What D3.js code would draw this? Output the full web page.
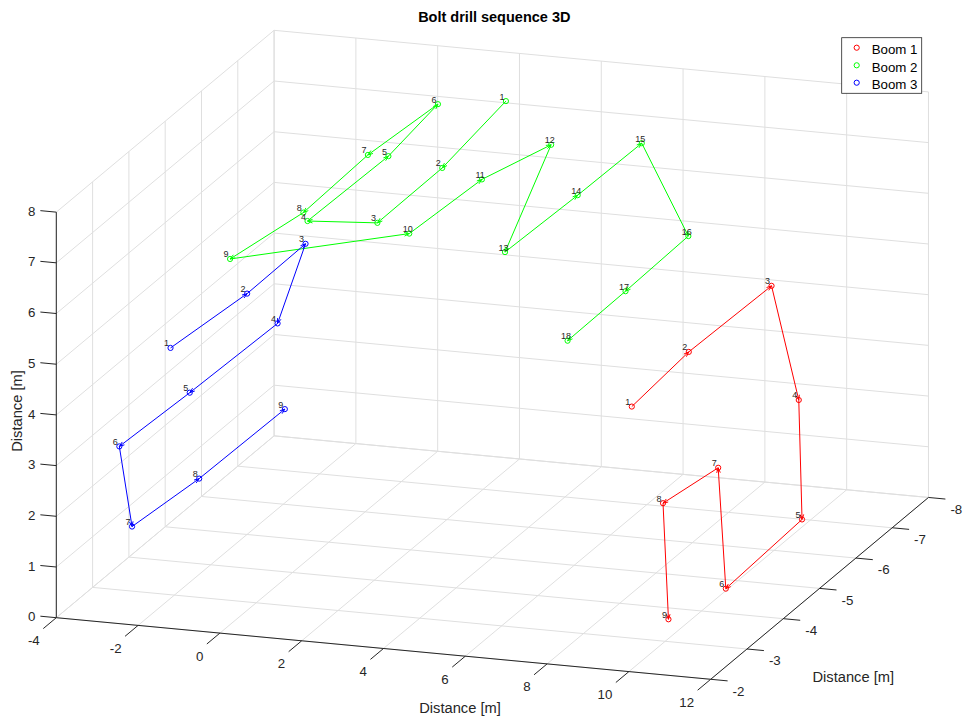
<!DOCTYPE html>
<html>
<head>
<meta charset="utf-8">
<script src="https://cdn.jsdelivr.net/npm/d3@7"></script>
<style>
  body { margin: 0; background: #fff; }
  text { font-family: "Liberation Sans", Arial, Helvetica, sans-serif; }
</style>
</head>
<body>
<svg id="chart" width="964" height="717"></svg>
<script>
// ---- axis ticks ----
const xTicks = [-4, -2, 0, 2, 4, 6, 8, 10, 12];
const yTicks = [-2, -3, -4, -5, -6, -7, -8];
const zTicks = [0, 1, 2, 3, 4, 5, 6, 7, 8];

// ---- bolt positions per boom (metres) ----
const boom1X = [10, 10, 10, 10, 10, 10, 10, 10, 10];
const boom1Y = [-2.08, -3.65, -5.93, -6.68, -6.77, -4.67, -4.46, -2.94, -3.09];
const boom1Z = [5.18, 5.32, 5.26, 2.56, 0.15, 0.04, 2.55, 2.76, 0.38];

const boom2X = [2.29, 2.65, 2.67, 0.82, 0.89, 0.61, -0.26, -0.16, -0.55,
                3.92, 4.09, 4.70, 6.11, 6.21, 6.25, 8.25, 8.32, 8.35];
const boom2Y = [-7.30, -5.14, -3.33, -3.49, -5.64, -7.32, -6.37, -4.48, -2.90,
                -2.80, -4.61, -5.83, -2.97, -4.86, -6.58, -5.61, -3.80, -2.17];
const boom2Z = [7.5, 7.5, 7.5, 7.3, 7.3, 7.3, 6.8, 6.8, 6.8,
                7.7, 7.7, 7.7, 7.4, 7.4, 7.4, 6.3, 6.3, 6.3];

const boom3X = [-3, -3, -3, -3, -3, -3, -3, -3, -3];
const boom3Y = [-4.02, -6.13, -7.74, -6.97, -4.55, -2.61, -2.96, -4.81, -7.17];
const boom3Z = [4.19, 4.00, 4.02, 2.91, 2.99, 3.09, 1.30, 1.14, 1.10];

const seriesNames = ["Boom 1", "Boom 2", "Boom 3"];
const seriesColors = ["#ff0000", "#00ff00", "#0000ff"];

const series = [
  { name: seriesNames[0], color: seriesColors[0], x: boom1X, y: boom1Y, z: boom1Z },
  { name: seriesNames[1], color: seriesColors[1], x: boom2X, y: boom2Y, z: boom2Z },
  { name: seriesNames[2], color: seriesColors[2], x: boom3X, y: boom3Y, z: boom3Z }
].map(s => ({ ...s, pts: s.x.map((v, i) => ({ x: v, y: s.y[i], z: s.z[i], n: i + 1 })) }));

// ---- 3D view ----
const svg = d3.select("#chart");
const axisColor = "#262626";
const gridColor = "#dfdfdf";

const sx = d3.scaleLinear().domain([-4, 12]).range([0, 1]);
const sy = d3.scaleLinear().domain([-2, -8]).range([0, 1]);
const sz = d3.scaleLinear().domain([0, 8]).range([0, 1]);

const deg = Math.PI / 180;
const az = 18.56 * deg, el = 16.28 * deg;
const box = { lx: 690.3, ly: 684.2, lz: 422.5 };
const origin = [56.3, 617.7];
const cA = Math.cos(az), sA = Math.sin(az), cE = Math.cos(el), sE = Math.sin(el);

function project(x, y, z) {
  const nx = sx(x), ny = sy(y), nz = sz(z);
  return [
    origin[0] + nx * box.lx * cA + ny * box.ly * sA,
    origin[1] + nx * box.lx * sA * sE - ny * box.ly * cA * sE - nz * box.lz * cE
  ];
}
function unit(v) { const l = Math.hypot(v[0], v[1]); return [v[0] / l, v[1] / l]; }

const [xMin, xMax] = sx.domain();
const [yNear, yFar] = sy.domain();
const [zMin, zMax] = sz.domain();

const g = svg.append("g");
function seg(sel, a, b, color, w) {
  sel.append("line")
    .attr("x1", a[0]).attr("y1", a[1]).attr("x2", b[0]).attr("y2", b[1])
    .attr("stroke", color).attr("stroke-width", w);
}

// ---- grid on the three back planes ----
const grid = g.append("g");
// floor z = 0
xTicks.forEach(t => seg(grid, project(t, yNear, zMin), project(t, yFar, zMin), gridColor, 1));
yTicks.forEach(t => seg(grid, project(xMin, t, zMin), project(xMax, t, zMin), gridColor, 1));
// back wall y = far
xTicks.forEach(t => seg(grid, project(t, yFar, zMin), project(t, yFar, zMax), gridColor, 1));
zTicks.forEach(t => seg(grid, project(xMin, yFar, t), project(xMax, yFar, t), gridColor, 1));
// side wall x = min
yTicks.forEach(t => seg(grid, project(xMin, t, zMin), project(xMin, t, zMax), gridColor, 1));
zTicks.forEach(t => seg(grid, project(xMin, yNear, t), project(xMin, yFar, t), gridColor, 1));

// ---- axis lines, ticks and tick labels ----
const axes = g.append("g");
const tickLen = 17;
const fontTick = 13.3;

// x axis along y = near, z = 0
seg(axes, project(xMin, yNear, zMin), project(xMax, yNear, zMin), axisColor, 1);
const dxTick = unit([-sA, cA * sE]);
xTicks.forEach(t => {
  const p = project(t, yNear, zMin);
  const e = [p[0] + dxTick[0] * tickLen, p[1] + dxTick[1] * tickLen];
  seg(axes, p, e, axisColor, 1);
  axes.append("text").attr("x", e[0] - 3.5).attr("y", e[1] + 12)
    .attr("dy", "0.35em").attr("text-anchor", "end")
    .attr("font-size", fontTick).attr("fill", axisColor).text(t);
});

// y axis along x = max, z = 0
seg(axes, project(xMax, yNear, zMin), project(xMax, yFar, zMin), axisColor, 1);
const dyTick = unit([cA, sA * sE]);
yTicks.forEach(t => {
  const p = project(xMax, t, zMin);
  const e = [p[0] + dyTick[0] * tickLen, p[1] + dyTick[1] * tickLen];
  seg(axes, p, e, axisColor, 1);
  axes.append("text").attr("x", e[0] + 5).attr("y", e[1] + 10)
    .attr("dy", "0.35em").attr("text-anchor", "start")
    .attr("font-size", fontTick).attr("fill", axisColor).text(t);
});

// z axis at x = min, y = near
seg(axes, project(xMin, yNear, zMin), project(xMin, yNear, zMax), axisColor, 1);
const dzTick = unit([-cA, -sA * sE]);
zTicks.forEach(t => {
  const p = project(xMin, yNear, t);
  const e = [p[0] + dzTick[0] * 16, p[1] + dzTick[1] * 16];
  seg(axes, p, e, axisColor, 1);
  axes.append("text").attr("x", e[0] - 5).attr("y", e[1] + 0.5)
    .attr("dy", "0.35em").attr("text-anchor", "end")
    .attr("font-size", fontTick).attr("fill", axisColor).text(t);
});

// axis titles
const fontLabel = 14.7;
svg.append("text").attr("x", 460).attr("y", 712.7).attr("text-anchor", "middle")
  .attr("font-size", fontLabel).attr("fill", axisColor).text("Distance [m]");
svg.append("text").attr("x", 853.3).attr("y", 682.3).attr("text-anchor", "middle")
  .attr("font-size", fontLabel).attr("fill", axisColor).text("Distance [m]");
svg.append("text").attr("transform", "translate(21.5,411) rotate(-90)")
  .attr("text-anchor", "middle")
  .attr("font-size", fontLabel).attr("fill", axisColor).text("Distance [m]");

// title
svg.append("text").attr("x", 494.3).attr("y", 22).attr("text-anchor", "middle")
  .attr("font-size", 14.5).attr("font-weight", "bold").attr("fill", "#000")
  .text("Bolt drill sequence 3D");

// ---- drill sequences ----
const headLen = 5, headHalf = 1.8;
series.forEach(s => {
  const layer = g.append("g");
  const pts = s.pts.map(p => ({ ...p, s: project(p.x, p.y, p.z) }));
  for (let i = 0; i < pts.length - 1; i++) {
    const a = pts[i].s, b = pts[i + 1].s;
    seg(layer, a, b, s.color, 1);
    const d = unit([b[0] - a[0], b[1] - a[1]]);
    const n = [-d[1], d[0]];
    const base = [b[0] - d[0] * headLen, b[1] - d[1] * headLen];
    layer.append("path")
      .attr("d", `M${base[0] + n[0] * headHalf},${base[1] + n[1] * headHalf}L${b[0]},${b[1]}L${base[0] - n[0] * headHalf},${base[1] - n[1] * headHalf}`)
      .attr("fill", "none").attr("stroke", s.color).attr("stroke-width", 1);
  }
  layer.selectAll("circle").data(pts).join("circle")
    .attr("cx", p => p.s[0]).attr("cy", p => p.s[1]).attr("r", 2.6)
    .attr("fill", "none").attr("stroke", s.color).attr("stroke-width", 1);
  layer.selectAll("text").data(pts).join("text")
    .attr("x", p => p.s[0] - 6.5).attr("y", p => p.s[1] - 1.5)
    .attr("font-size", 9).attr("fill", "#262626").text(p => p.n);
});

// ---- legend ----
const leg = svg.append("g");
leg.append("rect").attr("x", 841.7).attr("y", 37.7).attr("width", 80).attr("height", 55.6)
  .attr("fill", "#fff").attr("stroke", axisColor).attr("stroke-width", 0.8);
const legRows = [47.7, 65.3, 82.7];
series.forEach((s, i) => {
  leg.append("circle").attr("cx", 856.7).attr("cy", legRows[i]).attr("r", 2.6)
    .attr("fill", "none").attr("stroke", s.color).attr("stroke-width", 1);
  leg.append("text").attr("x", 871.7).attr("y", legRows[i] + 6.3)
    .attr("font-size", 13.3).attr("fill", "#000").text(s.name);
});
</script>
</body>
</html>
